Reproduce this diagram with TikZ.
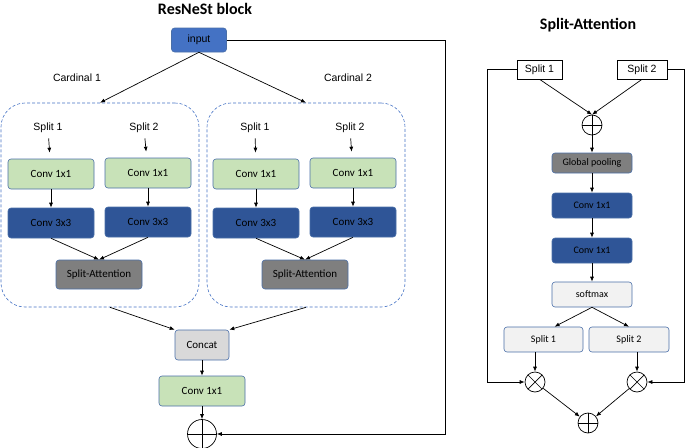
\documentclass[tikz,border=0pt]{standalone}
\usepackage{fontspec}
\setmainfont{Liberation Sans}
\newfontfamily\boxfont{Carlito}
\usepackage{xcolor}
\usetikzlibrary{arrows.meta,calc}

\definecolor{inblue}{HTML}{4472C4}
\definecolor{deepblue}{HTML}{2F5597}
\definecolor{edgeblue}{HTML}{4A6FA8}
\definecolor{lgreen}{HTML}{C8E2B8}
\definecolor{midgray}{HTML}{7F7F7F}
\definecolor{lgray}{HTML}{D9D9D9}
\definecolor{pale}{HTML}{F2F2F2}

\tikzset{
  arr/.style={-{Latex[length=5pt,width=4pt]}, line width=0.7pt},
  blk/.style={draw=edgeblue, line width=0.6pt, rounded corners=3pt, inner sep=0pt,
    font=\boxfont\fontsize{11}{13}\selectfont},
  conva/.style={blk, fill=lgreen, minimum width=86pt, minimum height=30pt},
  convb/.style={blk, fill=deepblue, minimum width=86pt, minimum height=30pt},
  attn/.style={blk, fill=midgray, minimum width=86pt, minimum height=29pt},
  rbox/.style={blk, minimum width=80pt, minimum height=25pt,
    font=\boxfont\fontsize{10}{12}\selectfont},
  cardbox/.style={draw=inblue, dash pattern=on 3pt off 2pt, line width=0.6pt, rounded corners=24pt,
    minimum width=198pt, minimum height=204pt, inner sep=0pt},
  lbl/.style={font=\fontsize{10.5}{12}\selectfont},
  plusop/.style={circle, draw, line width=0.7pt, inner sep=0pt,
    path picture={\draw[line width=0.7pt] (path picture bounding box.north) -- (path picture bounding box.south)
      (path picture bounding box.east) -- (path picture bounding box.west);}},
  timesop/.style={circle, draw, line width=0.7pt, inner sep=0pt,
    path picture={\draw[line width=0.7pt] (path picture bounding box.north east) -- (path picture bounding box.south west)
      (path picture bounding box.north west) -- (path picture bounding box.south east);}}
}

\begin{document}
\begin{tikzpicture}[x=1pt,y=-1pt]
            \useasboundingbox (0,0) rectangle (685,447);
            % ResNeSt block
            \node[font=\boxfont\bfseries\fontsize{16}{18}\selectfont] (title1) at (205,9) {ResNeSt block};
            \node[blk, fill=inblue, minimum width=55pt, minimum height=24pt, font=\fontsize{10.5}{12}\selectfont] (input) at (199,40) {input};
            \node[lbl] (card1lbl) at (77,78) {Cardinal 1};
            \node[lbl] (card2lbl) at (348,78) {Cardinal 2};
            \node[cardbox] (card1) at (100,205) {};
            \node[cardbox] (card2) at (306,205) {};
            \draw[arr] (input.south) -- (card1.north);
            \draw[arr] (input.south) -- (card2.north);
            % cardinal 1
            \node[lbl] (s11) at (48,128) {Split 1};
            \node[lbl] (s12) at (144,128) {Split 2};
            \node[conva] (c11) at (51,174) {Conv 1x1};
            \node[conva] (c12) at (148,173) {Conv 1x1};
            \node[convb] (d11) at (51,223) {Conv 3x3};
            \node[convb] (d12) at (148,222) {Conv 3x3};
            \node[attn] (sa1) at (99,274.5) {Split-Attention};
            % cardinal 2
            \node[lbl] (s21) at (255,128) {Split 1};
            \node[lbl] (s22) at (350,128) {Split 2};
            \node[conva] (c21) at (256,174) {Conv 1x1};
            \node[conva] (c22) at (353,173) {Conv 1x1};
            \node[convb] (d21) at (256,223) {Conv 3x3};
            \node[convb] (d22) at (353,222) {Conv 3x3};
            \node[attn] (sa2) at (305,274.5) {Split-Attention};
            \foreach \s/\c in {s11/c11,s12/c12,s21/c21,s22/c22}
              \draw[arr, shorten <=2pt, shorten >=6pt] (\s) -- (\c);
            \foreach \c/\d in {c11/d11,c12/d12,c21/d21,c22/d22}
              \draw[arr] (\c) -- (\d);
            \draw[arr] (d11.south) -- (sa1.north);
            \draw[arr] (d12.south) -- (sa1.north);
            \draw[arr] (d21.south) -- (sa2.north);
            \draw[arr] (d22.south) -- (sa2.north);
            % merge
            \node[blk, fill=lgray, minimum width=54pt, minimum height=30pt] (concat) at (202,345) {Concat};
            \node[conva] (conv) at (202,391) {Conv 1x1};
            \node[plusop, minimum size=29pt] (add) at (202,434) {};
            \draw[arr] ($(card1.south)+(10,0)$) -- (concat.north west);
            \draw[arr] (card2.south) -- (concat.north east);
            \draw[arr] (concat) -- (conv);
            \draw[arr] (conv) -- (add);
            \draw[arr] (input.east) -- ++(219,0) |- (add);
            % Split-Attention
            \node[font=\boxfont\bfseries\fontsize{16}{18}\selectfont] (title2) at (588,25) {Split-Attention};
            \node[draw, line width=0.6pt, minimum width=45pt, minimum height=19pt, inner sep=0pt, lbl] (rs1) at (539.5,69.5) {Split 1};
            \node[draw, line width=0.6pt, minimum width=50pt, minimum height=19pt, inner sep=0pt, lbl] (rs2) at (642,69.5) {Split 2};
            \node[plusop, minimum size=20pt] (sum) at (592,125) {};
            \node[rbox, fill=midgray, minimum height=20pt] (gp) at (592,163) {Global pooling};
            \node[rbox, fill=deepblue] (fc1) at (592,205.5) {Conv 1x1};
            \node[rbox, fill=deepblue] (fc2) at (592,250.5) {Conv 1x1};
            \node[rbox, fill=pale] (soft) at (592,294.5) {softmax};
            \node[rbox, fill=pale, minimum width=79pt] (sp1) at (543.5,339.5) {Split 1};
            \node[rbox, fill=pale] (sp2) at (629,339.5) {Split 2};
            \node[timesop, minimum size=20pt] (mul1) at (535,382) {};
            \node[timesop, minimum size=20pt] (mul2) at (637,382) {};
            \node[plusop, minimum size=20pt] (out) at (588,423) {};
            \draw[arr] (rs1.south) -- (sum.north);
            \draw[arr] (rs2.south) -- (sum.north);
            \draw[arr] (sum) -- (gp);
            \draw[arr] (gp) -- (fc1);
            \draw[arr] (fc1) -- (fc2);
            \draw[arr] (fc2) -- (soft);
            \draw[arr] (soft.south) -- ($(sp1.north)+(11,0)$);
            \draw[arr] (soft.south) -- (sp2.north);
            \draw[arr] (sp1.south -| mul1) -- (mul1);
            \draw[arr] (sp2.south -| mul2) -- (mul2);
            \draw[arr] (rs1.west) -- ++(-29,0) |- (mul1);
            \draw[arr] (rs2.east) -- ++(17,0) |- (mul2);
            \draw[arr] (mul1) -- (out);
            \draw[arr] (mul2) -- (out);
        \end{tikzpicture}
\end{document}
